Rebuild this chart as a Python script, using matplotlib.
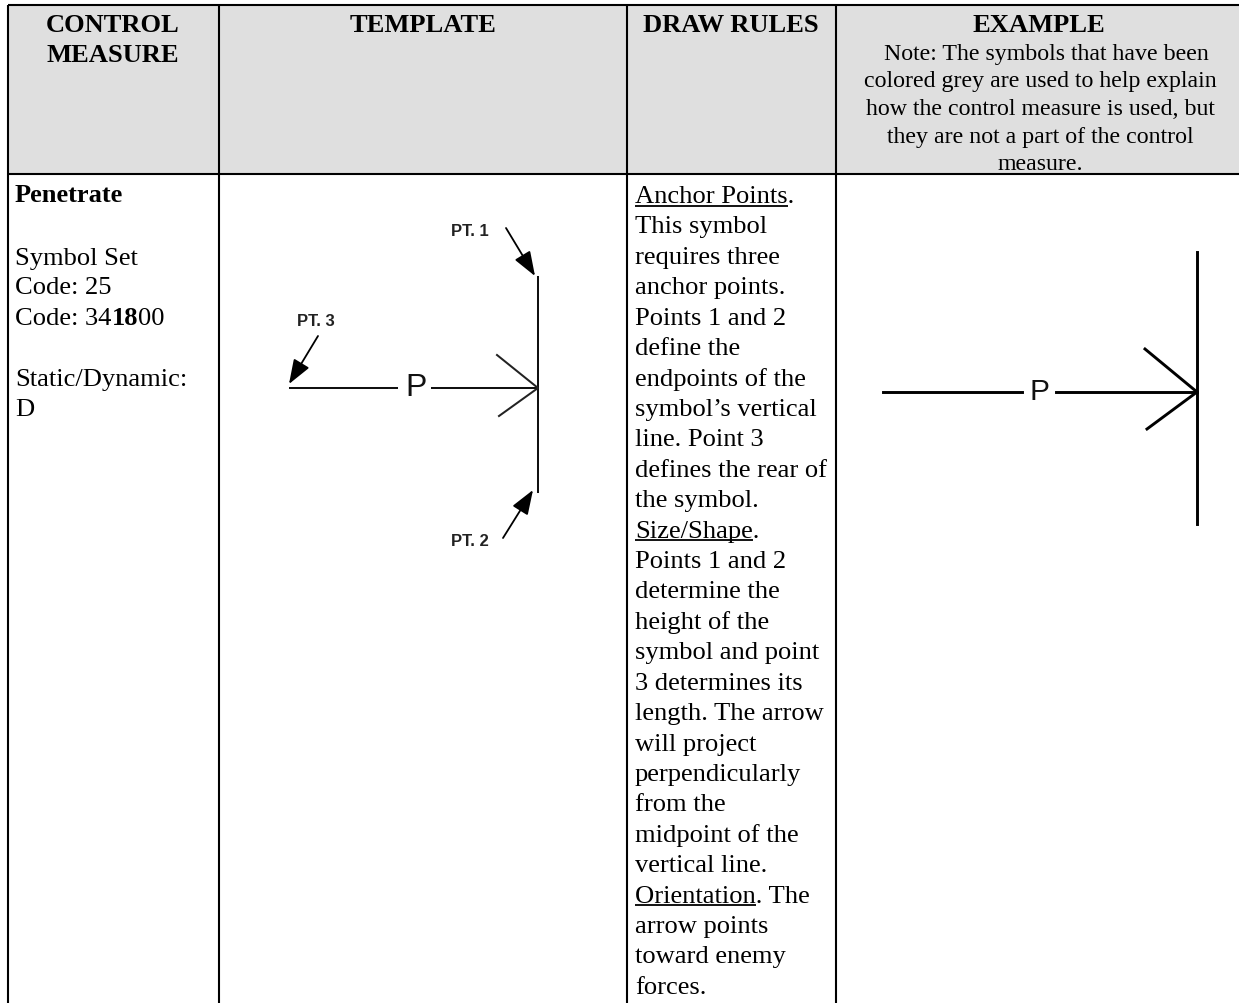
import matplotlib
matplotlib.use('Agg')
import matplotlib.pyplot as plt

W, H = 1239, 1004
SERIF = 'Liberation Serif'
ARIAL = 'Liberation Sans'

col_lines = [7.5, 219, 627, 836]
row_lines = [6, 175]
header_grey = '#dfdfdf'

# header text: (string, centre x, baseline y)
headers = [('CONTROL', 113, 32), ('MEASURE', 113, 62),
           ('TEMPLATE', 423, 32), ('DRAW RULES', 731, 32),
           ('EXAMPLE', 1039, 32)]
note_lines = ['  Note: The symbols that have been', 'colored grey are used to help explain',
              'how the control measure is used, but', 'they are not a part of the control', 'measure.']
note_y = [60, 87, 115, 143, 170]

left_col = [('Symbol Set', 265), ('Code: 25', 294.5), ('Static/Dynamic:', 386), ('D', 416)]
rules = ['Anchor Points.', 'This symbol', 'requires three', 'anchor points.', 'Points 1 and 2',
         'define the', 'endpoints of the', 'symbol\u2019s vertical', 'line. Point 3',
         'defines the rear of', 'the symbol.', 'Size/Shape.', 'Points 1 and 2',
         'determine the', 'height of the', 'symbol and point', '3 determines its',
         'length. The arrow', 'will project', 'perpendicularly', 'from the',
         'midpoint of the', 'vertical line.', 'Orientation. The', 'arrow points',
         'toward enemy', 'forces.']
underlined = {'Anchor Points.': 'Anchor Points', 'Size/Shape.': 'Size/Shape', 'Orientation. The': 'Orientation'}

# template symbol
tmpl_vert = ([538, 538], [278, 493])
tmpl_shaft = [([290, 397], [389, 389]), ([432, 538], [389, 389])]
tmpl_head = ([497, 538, 499], [356, 389, 417])
tmpl_labels = [('PT. 1', 470, 232), ('PT. 3', 315.5, 322), ('PT. 2', 469.5, 542)]
tmpl_arrows = [((506, 229), (535, 277)), ((318, 337), (289, 385)), ((503, 539), (533, 491))]

# example symbol
ex_vert = ([1196.5, 1196.5], [253, 525])
ex_shaft = [([883, 1022], [393, 393]), ([1056, 1197], [393, 393])]
ex_head = ([1145, 1197, 1147], [350, 393, 430])

fig = plt.figure(figsize=(W / 100, H / 100), dpi=100)
ax = fig.add_axes([0, 0, 1, 1])
ax.set_xlim(0, W)
ax.set_ylim(H, 0)
ax.axis('off')

ax.fill_between([col_lines[0], W], row_lines[0], row_lines[1], color=header_grey, lw=0)
for x in col_lines:
    ax.plot([x, x], [row_lines[0], H], color='black', lw=1.5, solid_capstyle='butt')
for y in row_lines:
    ax.plot([col_lines[0], W], [y, y], color='black', lw=1.5, solid_capstyle='butt')

fs = 19.05
for txt, x, y in headers:
    ax.text(x, y, txt, family=SERIF, fontsize=fs, weight='bold', ha='center', va='baseline')
for txt, y in zip(note_lines, note_y):
    ax.text(1040, y, txt, family=SERIF, fontsize=17.2, ha='center', va='baseline')

ax.text(15, 202, 'Penetrate', family=SERIF, fontsize=fs, weight='bold', va='baseline')
for txt, y in left_col:
    ax.text(15, y, txt, family=SERIF, fontsize=fs, va='baseline')

# code line has a bold middle part so it is built from three pieces
fig.canvas.draw()
rend = fig.canvas.get_renderer()
cx = 15
for part, w in [('Code: 34', 'normal'), ('18', 'bold'), ('00', 'normal')]:
    t = ax.text(cx, 325, part, family=SERIF, fontsize=fs, weight=w, va='baseline')
    cx = t.get_window_extent(rend).x1

for i, line in enumerate(rules):
    y = 203 + i * 30.42
    ax.text(635, y, line, family=SERIF, fontsize=fs, va='baseline')
    if line in underlined:
        # measure the underlined words only, then drop the probe text again
        probe = ax.text(635, y, underlined[line], family=SERIF, fontsize=fs, va='baseline')
        x1 = probe.get_window_extent(rend).x1
        probe.remove()
        ax.plot([635, x1], [y + 3.5, y + 3.5], color='black', lw=1.3, solid_capstyle='butt')

# template symbol
sym_lw = 1.45
ax.plot(*tmpl_vert, color='#111111', lw=sym_lw)
for xs, ys in tmpl_shaft:
    ax.plot(xs, ys, color='#111111', lw=sym_lw)
ax.plot(*tmpl_head, color='#222222', lw=sym_lw)
ax.text(416, 388, 'P', family=ARIAL, fontsize=23, ha='center', va='center', color='#111111')
for txt, x, y in tmpl_labels:
    ax.text(x, y, txt, family=ARIAL, fontsize=12, weight='bold', ha='center', va='center', color='#222222')
for start, end in tmpl_arrows:
    ax.annotate('', xy=end, xytext=start,
                arrowprops=dict(arrowstyle='-|>,head_length=1.5,head_width=0.55', color='black',
                                lw=1.3, shrinkA=0, shrinkB=0))

# example symbol
ex_lw = 2.1
ax.plot(*ex_vert, color='black', lw=ex_lw)
for xs, ys in ex_shaft:
    ax.plot(xs, ys, color='black', lw=ex_lw)
ax.plot(*ex_head, color='black', lw=ex_lw)
ax.text(1040, 392, 'P', family=ARIAL, fontsize=21.5, ha='center', va='center', color='#111111')

fig.savefig('out.png', dpi=100)
